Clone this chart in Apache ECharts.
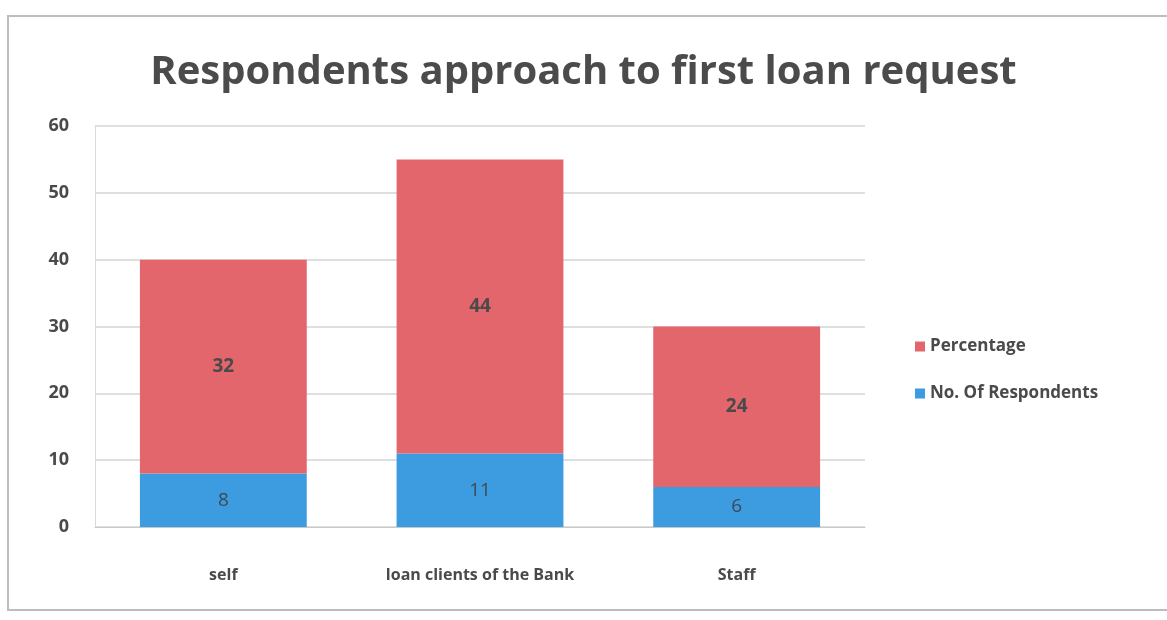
<!DOCTYPE html>
<html>
<head>
<meta charset="utf-8">
<script src="https://cdn.jsdelivr.net/npm/echarts@6/dist/echarts.min.js"></script>
<style>
  html, body { margin: 0; padding: 0; background: #fff; }
  #chart { width: 1167px; height: 620px; }
</style>
</head>
<body>
<div id="chart"></div>
<script>
const categories = ['self', 'loan clients of the Bank', 'Staff'];
const respondents = [8, 11, 6];
const percentage = [32, 44, 24];
const yTicks = { min: 0, max: 60, interval: 10 };

const textColor = '#4a4a4a';
const chart = echarts.init(document.getElementById('chart'));

chart.setOption({
  backgroundColor: '#fff',
  animation: false,
  title: {
    text: 'Respondents approach to first loan request',
    left: 'center',
    top: 48,
    textStyle: { fontFamily: 'Open Sans', fontWeight: 'bold', fontSize: 40, color: '#4b4b4b' }
  },
  graphic: [{
    type: 'rect',
    shape: { x: 8, y: 16, width: 1170, height: 594 },
    style: { fill: 'none', stroke: '#bdbdbd', lineWidth: 2 },
    silent: true
  }],
  legend: {
    orient: 'vertical',
    left: 910,
    top: 333,
    itemGap: 30,
    itemWidth: 10,
    itemHeight: 10,
    icon: 'rect',
    data: ['Percentage', 'No. Of Respondents'],
    textStyle: { fontFamily: 'Open Sans', fontSize: 17, fontWeight: 'bold', color: textColor }
  },
  grid: { left: 95, right: 302, top: 126, bottom: 93 },
  xAxis: {
    type: 'category',
    data: categories,
    axisTick: { show: false },
    axisLine: { lineStyle: { color: '#c8c8c8' } },
    axisLabel: { fontFamily: 'Open Sans', fontSize: 16, fontWeight: 'bold', color: textColor, margin: 40 }
  },
  yAxis: {
    type: 'value',
    min: yTicks.min,
    max: yTicks.max,
    interval: yTicks.interval,
    axisLine: { show: true, lineStyle: { color: '#dadada' } },
    splitLine: { lineStyle: { color: '#d4d4d4', width: 1.5 } },
    axisLabel: { fontFamily: 'Open Sans', fontSize: 18, fontWeight: 'bold', color: textColor, margin: 26 }
  },
  series: [
    {
      name: 'No. Of Respondents',
      type: 'bar',
      stack: 'total',
      data: respondents,
      barWidth: '65%',
      itemStyle: { color: '#3d9be0' },
      label: { show: true, position: 'inside', fontFamily: 'Open Sans', fontSize: 19, color: '#3c4a55' }
    },
    {
      name: 'Percentage',
      type: 'bar',
      stack: 'total',
      data: percentage,
      barWidth: '65%',
      itemStyle: { color: '#e2666c' },
      label: { show: true, position: 'inside', fontFamily: 'Open Sans', fontSize: 19, fontWeight: 'bold', color: '#4a4a4a' }
    }
  ]
});
</script>
</body>
</html>
